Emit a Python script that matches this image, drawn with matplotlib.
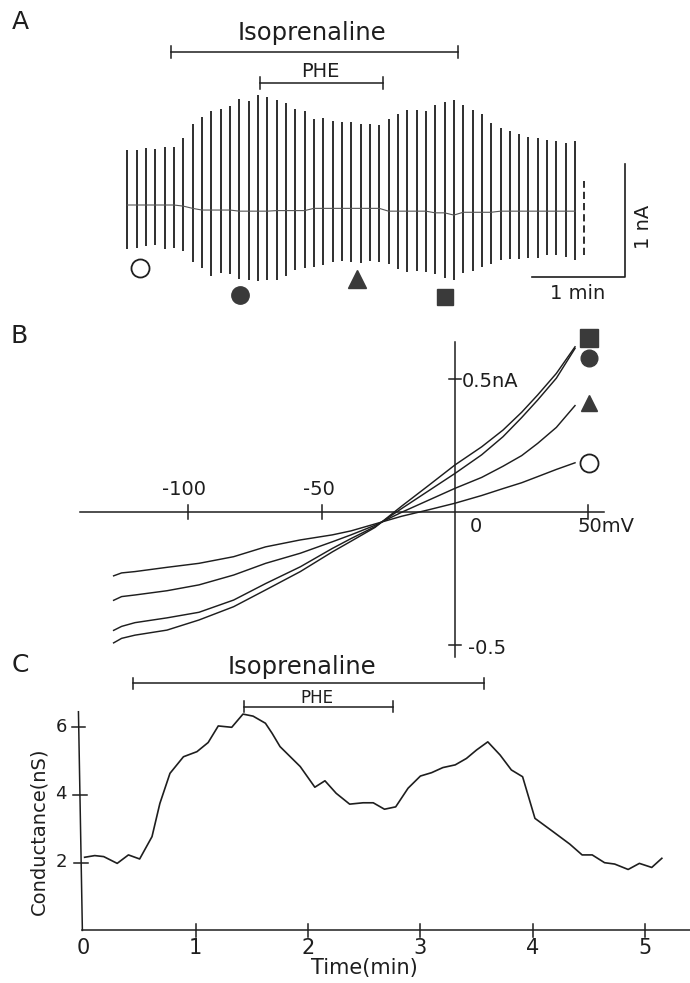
import matplotlib
matplotlib.use("Agg")
import matplotlib.pyplot as plt

plt.rcParams['font.family'] = ['DejaVu Sans']

# ---------------- data ----------------
# Panel A: ramp sweeps (nA, relative to initial holding current), one every 0.1 min
SWEEP_DT = 0.1
sweep_top = [0.49, 0.49, 0.51, 0.50, 0.52, 0.52, 0.60, 0.72, 0.79, 0.84,
             0.86, 0.88, 0.95, 0.93, 0.98, 0.96, 0.94, 0.91, 0.86, 0.84,
             0.77, 0.78, 0.75, 0.74, 0.74, 0.72, 0.72, 0.71, 0.77, 0.81,
             0.85, 0.85, 0.84, 0.89, 0.92, 0.94, 0.89, 0.85, 0.81, 0.73,
             0.69, 0.66, 0.63, 0.61, 0.60, 0.58, 0.57, 0.55, 0.57, 0.21]
sweep_bottom = [-0.39, -0.38, -0.37, -0.36, -0.39, -0.38, -0.41, -0.51, -0.56, -0.63,
                -0.61, -0.62, -0.66, -0.67, -0.68, -0.67, -0.67, -0.63, -0.58, -0.56,
                -0.55, -0.54, -0.51, -0.50, -0.51, -0.52, -0.50, -0.51, -0.53, -0.57,
                -0.60, -0.59, -0.60, -0.62, -0.65, -0.67, -0.61, -0.59, -0.55, -0.53,
                -0.49, -0.48, -0.48, -0.47, -0.47, -0.45, -0.45, -0.46, -0.49, -0.45]
holding = [0.0] * 6 + [-0.01, -0.03] + [-0.045] * 4 + [-0.055] * 4 + [-0.05] * 4 + \
          [-0.03] * 8 + [-0.055] * 5 + [-0.07] * 2 + [-0.09] + [-0.065] * 4 + [-0.055] * 10

# Panel B: I-V relations (mV, nA)
iv_voltage = [-128, -125, -120, -108, -96, -83, -71, -58, -46, -39,
              -30, -20, -10, 0, 10, 18, 25, 31, 38, 45]
iv_control = [-0.240, -0.229, -0.224, -0.208, -0.193, -0.168, -0.131, -0.105, -0.086, -0.071,
              -0.045, -0.016, 0.008, 0.033, 0.062, 0.088, 0.110, 0.133, 0.160, 0.185]
iv_triangle = [-0.332, -0.318, -0.312, -0.296, -0.274, -0.237, -0.193, -0.155, -0.112, -0.086,
               -0.050, -0.001, 0.044, 0.089, 0.130, 0.172, 0.212, 0.258, 0.318, 0.400]
iv_circle = [-0.445, -0.430, -0.416, -0.398, -0.377, -0.331, -0.269, -0.206, -0.137, -0.100,
             -0.055, 0.013, 0.079, 0.145, 0.215, 0.283, 0.355, 0.421, 0.503, 0.615]
iv_square = [-0.492, -0.475, -0.463, -0.444, -0.406, -0.356, -0.293, -0.224, -0.150, -0.110,
             -0.058, 0.022, 0.099, 0.177, 0.245, 0.308, 0.375, 0.440, 0.521, 0.621]

# Panel C: conductance time course
cond_time = [0.01, 0.10, 0.18, 0.30, 0.40, 0.50, 0.61, 0.68, 0.77, 0.89,
             1.01, 1.11, 1.20, 1.32, 1.42, 1.51, 1.62, 1.68, 1.75, 1.93,
             2.06, 2.15, 2.25, 2.37, 2.49, 2.58, 2.68, 2.78, 2.89, 3.00,
             3.10, 3.20, 3.31, 3.41, 3.50, 3.60, 3.71, 3.81, 3.91, 4.02,
             4.18, 4.33, 4.44, 4.53, 4.64, 4.73, 4.85, 4.95, 5.06, 5.15]
cond_ns = [2.16, 2.21, 2.18, 1.98, 2.23, 2.11, 2.77, 3.75, 4.64, 5.13,
           5.28, 5.55, 6.04, 6.00, 6.39, 6.33, 6.12, 5.82, 5.43, 4.84,
           4.23, 4.42, 4.05, 3.73, 3.77, 3.77, 3.58, 3.65, 4.20, 4.56,
           4.66, 4.81, 4.89, 5.08, 5.33, 5.57, 5.18, 4.74, 4.54, 3.31,
           2.92, 2.55, 2.23, 2.23, 2.00, 1.96, 1.80, 1.98, 1.86, 2.13]
c_xticks = [1, 2, 3, 4, 5]
c_xticklabels = ["0", "1", "2", "3", "4", "5"]
c_yticks = [2, 4, 6]

# drug application periods (min)
iso_A = (0.47, 3.54)
phe_A = (1.42, 2.74)
iso_C = (0.445, 3.57)
phe_C = (1.43, 2.76)

# ---------------- figure ----------------
W, H = 690, 983
fig = plt.figure(figsize=(W / 100, H / 100), dpi=100)
INK = "#1e1e1e"
MFILL = "#3a3a3a"


def px_axes(x0px, pxx, y0px, pxy, top_px, bottom_px):
    ax = fig.add_axes([0, 1 - bottom_px / H, 1, (bottom_px - top_px) / H])
    ax.set_xlim(-x0px / pxx, (W - x0px) / pxx)
    ax.set_ylim((y0px - bottom_px) / pxy, (y0px - top_px) / pxy)
    ax.axis("off")
    return ax


def drug_bar(ax, x0, x1, y, tick, lw=1.1):
    ax.plot([x0, x1], [y, y], color=INK, lw=lw, clip_on=False)
    for x in (x0, x1):
        ax.plot([x, x], [y - tick, y + tick], color=INK, lw=lw, clip_on=False)


# ---- Panel A ----
axA = px_axes(127.3, 93.3, 205, 112, 0, 320)
tA = [i * SWEEP_DT for i in range(len(sweep_top))]
axA.vlines(tA[:-1], sweep_bottom[:-1], sweep_top[:-1], colors=INK, lw=1.3)
axA.vlines(tA[-1:], sweep_bottom[-1:], sweep_top[-1:], colors=INK, lw=1.3,
           linestyles=[(0, (4, 2.2))])
axA.plot(tA[:-1], holding[:-1], color="#555555", lw=0.8)

drug_bar(axA, iso_A[0], iso_A[1], 1.366, 0.055)
axA.text(1.98, 1.54, "Isoprenaline", ha="center", va="center", fontsize=17.5, color=INK)
drug_bar(axA, phe_A[0], phe_A[1], 1.089, 0.055)
axA.text(2.07, 1.19, "PHE", ha="center", va="center", fontsize=14, color=INK)

axA.plot([0.136], [-0.5625], marker="o", ms=13, mfc="white", mec=INK, mew=1.3, clip_on=False)
axA.plot([1.208], [-0.804], marker="o", ms=12.5, mfc=MFILL, mec=MFILL, clip_on=False)
axA.plot([2.462], [-0.661], marker="^", ms=12.5, mfc=MFILL, mec=MFILL, clip_on=False)
axA.plot([3.405], [-0.821], marker="s", ms=12, mfc=MFILL, mec=MFILL, clip_on=False)

# scale bars
axA.plot([4.335, 5.335, 5.335], [-0.643, -0.643, 0.366], color=INK, lw=1.2, clip_on=False)
axA.text(5.53, -0.196, "1 nA", rotation=90, ha="center", va="center", fontsize=14, color=INK)
axA.text(4.83, -0.786, "1 min", ha="center", va="center", fontsize=14, color=INK)

# ---- Panel B ----
axB = px_axes(455, 2.667, 512, 266, 320, 660)
axB.plot([-140.6, 56], [0, 0], color=INK, lw=1.1, clip_on=False)
axB.plot([0, 0], [-0.545, 0.64], color=INK, lw=1.1, clip_on=False)
for v in (-100, -50, 50):
    axB.plot([v, v], [-0.027, 0.027], color=INK, lw=1.1, clip_on=False)
for i in (0.5, -0.5):
    axB.plot([-2.4, 2.4], [i, i], color=INK, lw=1.1, clip_on=False)
axB.text(-101.5, 0.086, "-100", ha="center", va="center", fontsize=14, color=INK)
axB.text(-51, 0.086, "-50", ha="center", va="center", fontsize=14, color=INK)
axB.text(7.8, -0.055, "0", ha="center", va="center", fontsize=14, color=INK)
axB.text(46.1, -0.056, "50mV", ha="left", va="center", fontsize=14, color=INK)
axB.text(2.5, 0.49, "0.5nA", ha="left", va="center", fontsize=14, color=INK)
axB.text(5.0, -0.515, "-0.5", ha="left", va="center", fontsize=14, color=INK)

for curve in (iv_control, iv_triangle, iv_circle, iv_square):
    axB.plot(iv_voltage, curve, color=INK, lw=1.05, clip_on=False)

axB.plot([50.2], [0.654], marker="s", ms=13, mfc=MFILL, mec=MFILL, clip_on=False)
axB.plot([50.2], [0.579], marker="o", ms=12, mfc=MFILL, mec=MFILL, clip_on=False)
axB.plot([50.4], [0.410], marker="^", ms=12, mfc=MFILL, mec=MFILL, clip_on=False)
axB.plot([50.4], [0.184], marker="o", ms=13, mfc="white", mec=INK, mew=1.3, clip_on=False)

# ---- Panel C ----
axC = px_axes(83.5, 112.3, 930.4, 33.85, 640, 983)
axC.plot([-0.01, 5.40], [0, 0], color=INK, lw=1.1, clip_on=False)
axC.plot([-0.045, -0.01], [6.46, 0], color=INK, lw=1.1, clip_on=False)
for x in c_xticks:
    axC.plot([x, x], [-0.2, 0.2], color=INK, lw=1.1, clip_on=False)
for y in c_yticks:
    x_axis = -0.01 - 0.035 * y / 6.46
    axC.plot([x_axis - 0.06, x_axis + 0.06], [y, y], color=INK, lw=1.1, clip_on=False)
    axC.text(-0.15, y + 0.02, str(y), ha="right", va="center", fontsize=13, color=INK)
for k, lab in enumerate(c_xticklabels):
    axC.text(k, -0.52, lab, ha="center", va="center", fontsize=15, color=INK)
axC.text(2.50, -1.10, "Time(min)", ha="center", va="center", fontsize=15, color=INK)
axC.text(-0.40, 2.94, "Conductance(nS)", rotation=90, ha="center", va="center",
         fontsize=14, color=INK)

axC.plot(cond_time, cond_ns, color=INK, lw=1.2, clip_on=False)

drug_bar(axC, iso_C[0], iso_C[1], 7.30, 0.17)
axC.text(1.945, 7.78, "Isoprenaline", ha="center", va="center", fontsize=17.5, color=INK)
drug_bar(axC, phe_C[0], phe_C[1], 6.61, 0.17)
axC.text(2.08, 6.87, "PHE", ha="center", va="center", fontsize=12, color=INK)

# panel letters
fig.text(20 / W, 1 - 22 / H, "A", ha="center", va="center", fontsize=18, color=INK)
fig.text(19 / W, 1 - 336 / H, "B", ha="center", va="center", fontsize=18, color=INK)
fig.text(20 / W, 1 - 665 / H, "C", ha="center", va="center", fontsize=18, color=INK)

fig.savefig("out.png", dpi=100, facecolor="white")
